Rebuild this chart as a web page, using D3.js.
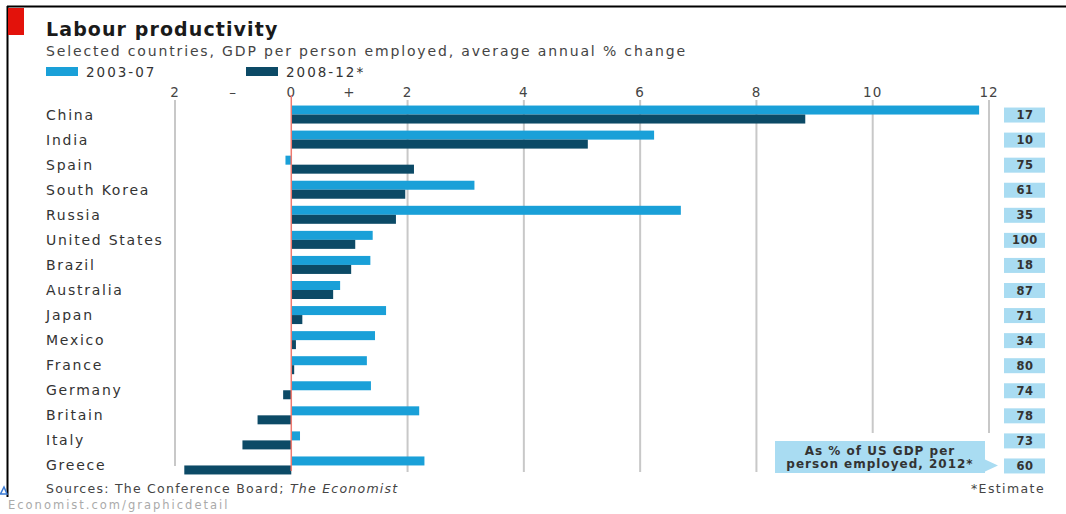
<!DOCTYPE html>
<html>
<head>
<meta charset="utf-8">
<script src="https://cdn.jsdelivr.net/npm/d3@7"></script>
<style>
  body { margin: 0; background: #fff; }
  text { font-family: "DejaVu Sans", sans-serif; }
</style>
</head>
<body>
<div id="chart"></div>
<script>
// data
var countries = ["China", "India", "Spain", "South Korea", "Russia", "United States", "Brazil",
    "Australia", "Japan", "Mexico", "France", "Germany", "Britain", "Italy", "Greece"];
var growth0307 = [11.83, 6.24, -0.1, 3.15, 6.7, 1.4, 1.36, 0.84, 1.63, 1.44, 1.3, 1.37, 2.2, 0.15, 2.29];
var growth0812 = [8.84, 5.1, 2.11, 1.96, 1.8, 1.1, 1.03, 0.72, 0.19, 0.08, 0.05, -0.14, -0.58, -0.84, -1.84];
var pctOfUS = [17, 10, 75, 61, 35, 100, 18, 87, 71, 34, 80, 74, 78, 73, 60];
var tickValues = [-2, -1, 0, 1, 2, 4, 6, 8, 10, 12];
var tickLabels = ["2", "–", "0", "+", "2", "4", "6", "8", "10", "12"];

var light = "#1aa0d8", dark = "#0c4a66", boxBlue = "#a9dcf2";

var svg = d3.select('#chart').append('svg')
    .attr('width', 1066)
    .attr('height', 514);

// frame
svg.append('line').attr('x1', 7).attr('x2', 1066).attr('y1', 6.5).attr('y2', 6.5)
    .attr('stroke', '#000').attr('stroke-width', 2);
svg.append('line').attr('x1', 7.5).attr('x2', 7.5).attr('y1', 6).attr('y2', 497)
    .attr('stroke', '#000').attr('stroke-width', 2);
svg.append('rect').attr('x', 8).attr('y', 8).attr('width', 16).attr('height', 27).attr('fill', '#e3120b');

// titles
svg.append('text').attr('x', 46).attr('y', 36).text('Labour productivity')
    .attr('font-size', 19).attr('letter-spacing', 1.1).attr('font-weight', 'bold').attr('fill', '#1a1a1a');
svg.append('text').attr('x', 46).attr('y', 56).text('Selected countries, GDP per person employed, average annual % change')
    .attr('font-size', 14).attr('letter-spacing', 1.85).attr('fill', '#444');

// legend
var legend = [{ c: light, t: '2003-07', x: 46 }, { c: dark, t: '2008-12*', x: 246 }];
legend.forEach(function (d) {
    svg.append('rect').attr('x', d.x).attr('y', 67).attr('width', 32).attr('height', 9).attr('fill', d.c);
    svg.append('text').attr('x', d.x + 40).attr('y', 77).text(d.t)
        .attr('font-size', 13.5).attr('letter-spacing', 2).attr('fill', '#333');
});

// scales
var x = d3.scaleLinear().domain([-2, 12]).range([175, 989]);
var y = d3.scaleBand().domain(countries).range([102, 478]);
var rowH = y.bandwidth();

// gridlines
var gridEnds = { "-2": 466, "2": 472, "4": 472, "6": 472, "8": 472, "10": 433, "12": 433 };
[-2, 2, 4, 6, 8, 10, 12].forEach(function (v) {
    svg.append('line').attr('x1', x(v)).attr('x2', x(v)).attr('y1', 100).attr('y2', gridEnds[v])
        .attr('stroke', '#c8c8c8').attr('stroke-width', 2);
});

// tick labels
svg.selectAll('text.tick').data(tickValues).enter().append('text')
    .attr('class', 'tick')
    .attr('x', function (d) { return x(d); })
    .attr('y', 97)
    .attr('text-anchor', 'middle')
    .attr('font-size', 13.5)
    .attr('letter-spacing', 1)
    .attr('fill', '#444')
    .text(function (d, i) { return tickLabels[i]; });

// bars
var rows = countries.map(function (c, i) {
    return { name: c, a: growth0307[i], b: growth0812[i], p: pctOfUS[i] };
});

svg.selectAll('rect.a').data(rows).enter().append('rect')
    .attr('class', 'a')
    .attr('x', function (d) { return x(Math.min(0, d.a)); })
    .attr('y', function (d) { return y(d.name) + rowH / 2 - 9; })
    .attr('width', function (d) { return Math.abs(x(d.a) - x(0)); })
    .attr('height', 9)
    .attr('fill', light);

svg.selectAll('rect.b').data(rows).enter().append('rect')
    .attr('class', 'b')
    .attr('x', function (d) { return x(Math.min(0, d.b)); })
    .attr('y', function (d) { return y(d.name) + rowH / 2; })
    .attr('width', function (d) { return Math.abs(x(d.b) - x(0)); })
    .attr('height', 9)
    .attr('fill', dark);

// zero line
svg.append('line').attr('x1', x(0)).attr('x2', x(0)).attr('y1', 95).attr('y2', 471)
    .attr('stroke', '#ee7a70').attr('stroke-width', 1.5);

// country labels
svg.selectAll('text.country').data(rows).enter().append('text')
    .attr('class', 'country')
    .attr('x', 46)
    .attr('y', function (d) { return y(d.name) + rowH / 2 + 5; })
    .attr('font-size', 14)
    .attr('letter-spacing', 1.75)
    .attr('fill', '#333')
    .text(function (d) { return d.name; });

// % of US boxes
svg.selectAll('rect.pbox').data(rows).enter().append('rect')
    .attr('class', 'pbox')
    .attr('x', 1004)
    .attr('y', function (d) { return y(d.name) + rowH / 2 - 7; })
    .attr('width', 41)
    .attr('height', 15)
    .attr('fill', boxBlue);
svg.selectAll('text.pval').data(rows).enter().append('text')
    .attr('class', 'pval')
    .attr('x', 1025)
    .attr('y', function (d) { return y(d.name) + rowH / 2 + 4.5; })
    .attr('text-anchor', 'middle')
    .attr('font-size', 11.5)
    .attr('letter-spacing', 0.6)
    .attr('font-weight', 'bold')
    .attr('fill', '#333')
    .text(function (d) { return d.p; });

// annotation
var ay = y("Greece") + rowH / 2;
svg.append('path')
    .attr('d', 'M775,441 L985,441 L985,' + (ay - 6) + ' L998,' + ay + ' L985,' + (ay + 6) + ' L985,473 L775,473 Z')
    .attr('fill', boxBlue);
svg.append('text').attr('x', 880).attr('y', 455).attr('text-anchor', 'middle')
    .attr('font-size', 12).attr('letter-spacing', 1).attr('font-weight', 'bold').attr('fill', '#333').text('As % of US GDP per');
svg.append('text').attr('x', 880).attr('y', 468).attr('text-anchor', 'middle')
    .attr('font-size', 12).attr('letter-spacing', 1).attr('font-weight', 'bold').attr('fill', '#333').text('person employed, 2012*');

// footer
var src = svg.append('text').attr('x', 46).attr('y', 493).attr('font-size', 12.5)
    .attr('letter-spacing', 1.25).attr('fill', '#444');
src.append('tspan').text('Sources: The Conference Board; ');
src.append('tspan').attr('font-style', 'italic').text('The Economist');
svg.append('text').attr('x', 1045).attr('y', 493).attr('text-anchor', 'end')
    .attr('font-size', 12.5).attr('letter-spacing', 1.4).attr('fill', '#444').text('*Estimate');
svg.append('text').attr('x', 8).attr('y', 509).attr('font-size', 11.5).attr('letter-spacing', 2)
    .attr('fill', '#aaa').text('Economist.com/graphicdetail');
svg.append('path').attr('d', 'M0.5,494 L4,487 L7,494 Z').attr('fill', 'none').attr('stroke', '#3a7bd5').attr('stroke-width', 1.5);
</script>
</body>
</html>
